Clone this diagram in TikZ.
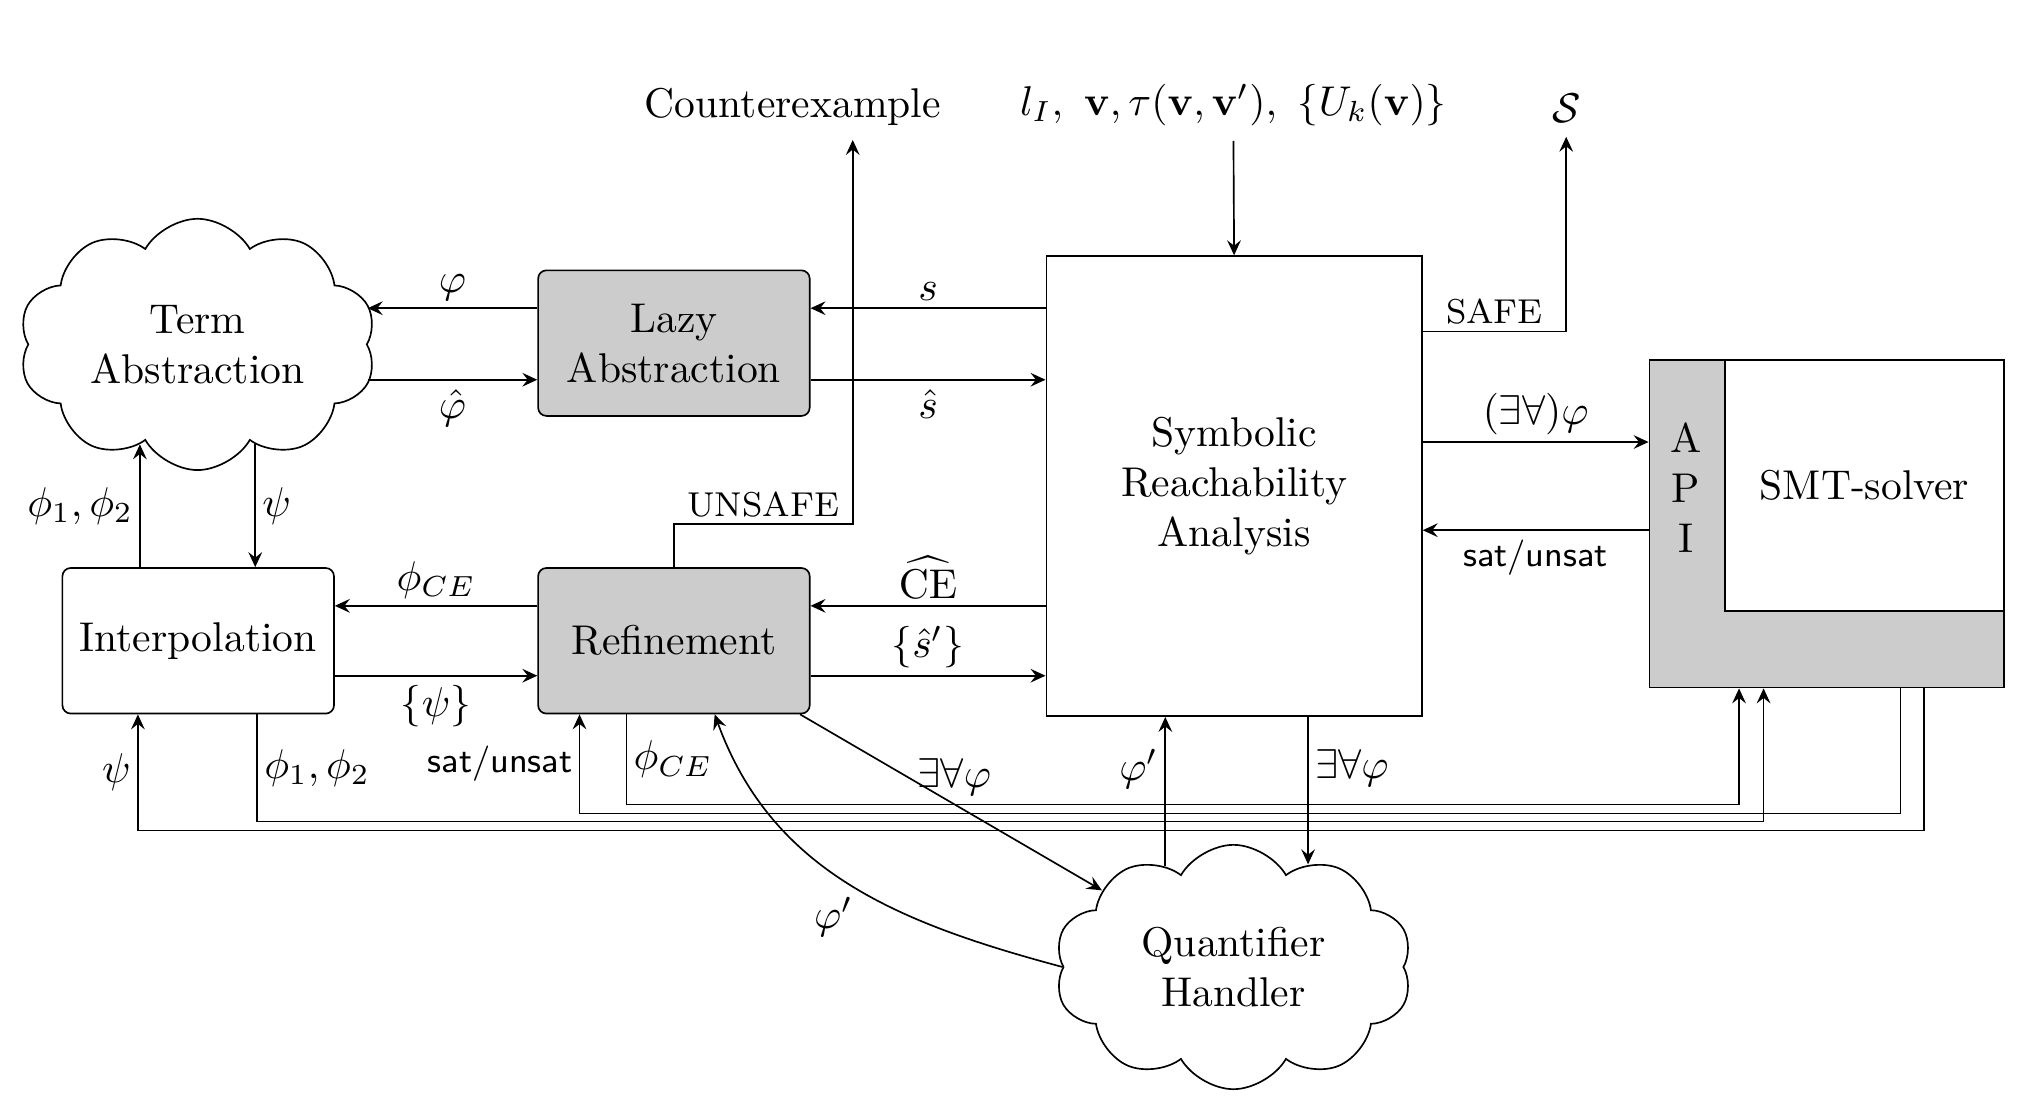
\documentclass[tikz,border=0pt]{standalone}
\usepackage{amsmath,amssymb}
\usetikzlibrary{shapes.symbols,calc,arrows.meta}
\begin{document}
\begin{tikzpicture}[x=0.3125pt,y=-0.3125pt,
  >={Stealth[length=3.6pt,width=3.3pt,inset=1.3pt]},
  box/.style={draw, rounded corners=2pt, minimum width=65.3pt, minimum height=35pt, align=center, inner sep=0pt},
  grey/.style={fill=black!20},
  cloudnode/.style={cloud, draw, cloud puffs=10, cloud puff arc=120, aspect=1.46, minimum width=86pt, minimum height=58.75pt, align=center, inner sep=0pt},
  caps/.style={font=\fontsize{8.3}{10}\selectfont},
  sans/.style={font=\fontsize{8.5}{10}\selectfont\sffamily},
  la/.style={above, inner sep=1.6pt},
  lb/.style={below, inner sep=2.2pt},
  ll/.style={left, inner sep=1.5pt},
  lr/.style={right, inner sep=1.5pt},
]
\useasboundingbox (0,0) rectangle (1568,848);
% nodes
\node[cloudnode] (TA) at (152,265) {Term\\Abstraction};
\node[box,grey] (LA) at (518.5,264) {Lazy\\Abstraction};
\node[draw, minimum width=90.3pt, minimum height=110.6pt, align=center, inner sep=0pt] (SRA) at (949.5,374) {Symbolic\\Reachability\\Analysis};
\node[box] (IP) at (152.5,493) {Interpolation};
\node[box,grey] (RF) at (518.5,493) {Refinement};
\node[draw, fill=black!20, minimum width=85.3pt, minimum height=78.75pt, inner sep=0pt] (API) at (1405.5,403) {};
\node[draw, fill=white, minimum width=67.2pt, minimum height=60.3pt, inner sep=0pt] (SMT) at (1434.5,373.5) {SMT-solver};
\node[align=center, inner sep=0pt] (APIL) at (1297,375) {A\\P\\I};
\node[cloudnode] (QH) at (949,744) {Quantifier\\Handler};
\node (CEX) at (610,82) {Counterexample};
\node (IN) at (949,81) {$l_I,\ \mathbf{v},\tau(\mathbf{v},\mathbf{v}'),\ \{U_k(\mathbf{v})\}$};
\node (S) at (1205,83) {$\mathcal{S}$};
% lanes
\coordinate (laneA) at (0,619);
\coordinate (laneB) at (0,626);
\coordinate (laneC) at (0,632);
\coordinate (laneD) at (0,639);
% top
\draw[->] (IN.south) -- (SRA.north);
\draw[->] ([yshift=37.2pt]SRA.east) -| node[pos=0.25,la,caps] {SAFE} (S.south);
\draw[->] (RF.north) -- ++(0,-33) -| node[pos=0.25,la,caps] {UNSAFE} ([xshift=14.4pt]CEX.south);
% Lazy abstraction
\draw[->] ([yshift=8.4pt]LA.east -| SRA.west) -- node[la] {$s$} ([yshift=8.4pt]LA.east);
\draw[->] ([yshift=-8.8pt]LA.east) -- node[lb] {$\hat s$} ([yshift=-8.8pt]LA.east -| SRA.west);
\draw[->] ([yshift=8.4pt]LA.west) -- node[la] {$\varphi$} ([yshift=8.4pt]LA.west -| TA.east);
\draw[->] ([yshift=-8.8pt]LA.west -| TA.east) -- node[lb] {$\hat\varphi$} ([yshift=-8.8pt]LA.west);
% term abstraction <-> interpolation
\draw[->] (TA.-60) -- node[lr] {$\psi$} (TA.-60 |- IP.north);
\draw[->] (TA.-120 |- IP.north) -- node[ll] {$\phi_1,\phi_2$} (TA.-120);
% refinement
\draw[->] ([yshift=8.4pt]RF.west) -- node[la] {$\phi_{CE}$} ([yshift=8.4pt]RF.west -| IP.east);
\draw[->] ([yshift=-8.4pt]RF.west -| IP.east) -- node[lb] {$\{\psi\}$} ([yshift=-8.4pt]RF.west);
\draw[->] ([yshift=8.4pt]RF.east -| SRA.west) -- node[la] {$\widehat{\mathrm{CE}}$} ([yshift=8.4pt]RF.east);
\draw[->] ([yshift=-8.4pt]RF.east) -- node[la] {$\{\hat{s}'\}$} ([yshift=-8.4pt]RF.east -| SRA.west);
% SMT
\draw[->] ([yshift=10.6pt]SRA.east) -- node[la] {$(\exists\forall)\varphi$} ([yshift=10.6pt]SRA.east -| API.west);
\draw[->] ([yshift=-10.6pt]SRA.east -| API.west) -- node[lb,sans] {sat/unsat} ([yshift=-10.6pt]SRA.east);
% bus
\draw[->] ([xshift=23.3pt]API.south) -- ([xshift=23.3pt]API.south |- laneD) -| node[pos=0.75,ll] {$\psi$} ([xshift=-14.5pt]IP.south);
\draw[->] ([xshift=14.2pt]IP.south) -- node[lr] {$\phi_1,\phi_2$} ([xshift=14.2pt]IP.south |- laneC) -| ([xshift=-15.2pt]API.south);
\draw[->] ([xshift=17.7pt]API.south) -- ([xshift=17.7pt]API.south |- laneB) -| node[pos=0.75,ll,sans] {sat/unsat} ([xshift=-22.7pt]RF.south);
\draw[->] ([xshift=-11.4pt]RF.south) -- node[lr] {$\phi_{CE}$} ([xshift=-11.4pt]RF.south |- laneA) -| ([xshift=-21.1pt]API.south);
% quantifier handler
\draw[->] (QH.124) -- node[pos=0.65,ll] {$\varphi'$} (QH.124 |- SRA.south);
\draw[->] (QH.54 |- SRA.south) -- node[pos=0.35,lr] {$\exists\forall\varphi$} (QH.54);
\draw[->] (RF) -- node[midway,xshift=0.8pt,yshift=6pt] {$\exists\forall\varphi$} (QH);
\draw[->] (QH.west) to[out=165,in=-70] node[pos=0.47,below left,inner sep=1.5pt] {$\varphi'$} ([xshift=9.8pt]RF.south);
\end{tikzpicture}
\end{document}
